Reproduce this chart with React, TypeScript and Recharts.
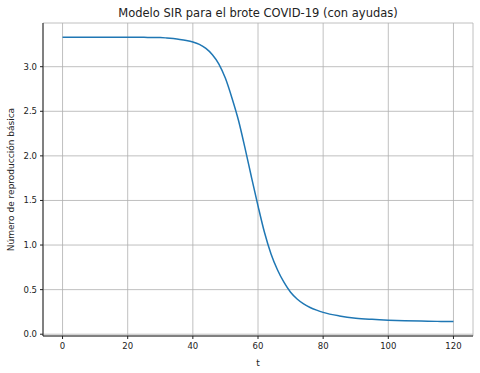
import React from 'react';
import { LineChart, Line, XAxis, YAxis, CartesianGrid } from 'recharts';

// days since start
const tValues = [
  0, 10, 20, 25, 30, 32, 34, 36, 38, 40, 42, 44, 46, 48, 50, 52, 54, 56, 58,
  60, 62, 64, 66, 68, 70, 72, 74, 76, 78, 80, 85, 90, 95, 100, 105, 110, 115,
  120,
];
// basic reproduction number
const r0Values = [
  3.33, 3.33, 3.33, 3.329, 3.327, 3.322, 3.315, 3.306, 3.294, 3.277, 3.25,
  3.205, 3.135, 3.03, 2.87, 2.65, 2.4, 2.09, 1.76, 1.44, 1.14, 0.9, 0.72, 0.58,
  0.47, 0.395, 0.34, 0.3, 0.27, 0.245, 0.205, 0.18, 0.167, 0.158, 0.152, 0.147,
  0.144, 0.142,
];
const xTicks = [0, 20, 40, 60, 80, 100, 120];
const yTicks = [0, 0.5, 1, 1.5, 2, 2.5, 3];

const data = tValues.map((t, i) => ({ t, r0: r0Values[i] }));

const font = '"DejaVu Sans", sans-serif';
const tickStyle = { fontSize: 8.5, fill: '#222', fontFamily: font };
const labelStyle = { fontSize: 9, fill: '#222', fontFamily: font };
const frame = '#222';

export default function App() {
  return (
    <div style={{ position: 'absolute', left: 0, top: 0, width: 480, height: 373 }}>
      <LineChart
        width={480}
        height={373}
        data={data}
        margin={{ top: 23, right: 7, bottom: 0, left: 0 }}
        style={{ background: '#fff' }}
      >
        <CartesianGrid stroke="#b0b0b0" strokeWidth={0.8} />
        <XAxis
          dataKey="t"
          type="number"
          domain={[-6, 126]}
          ticks={xTicks}
          height={37}
          tickSize={3}
          tickMargin={4}
          tick={tickStyle}
          axisLine={{ stroke: frame }}
          tickLine={{ stroke: frame }}
          allowDataOverflow
          label={{ value: 't', position: 'insideBottom', offset: 7, style: labelStyle }}
        />
        <XAxis
          xAxisId="top"
          orientation="top"
          type="number"
          domain={[-6, 126]}
          height={0}
          tick={false}
          tickLine={false}
          axisLine={{ stroke: frame }}
        />
        <YAxis
          type="number"
          domain={[-0.02, 3.49]}
          ticks={yTicks}
          width={43}
          tickSize={3}
          tickMargin={3}
          tick={tickStyle}
          tickFormatter={(v: number) => v.toFixed(1)}
          axisLine={{ stroke: frame }}
          tickLine={{ stroke: frame }}
          allowDataOverflow
          label={{
            value: 'Número de reproducción básica',
            angle: -90,
            position: 'insideLeft',
            offset: 11,
            style: { ...labelStyle, textAnchor: 'middle' },
          }}
        />
        <YAxis
          yAxisId="right"
          orientation="right"
          type="number"
          domain={[-0.02, 3.49]}
          width={0}
          tick={false}
          tickLine={false}
          axisLine={{ stroke: frame }}
        />
        <Line
          type="monotone"
          dataKey="r0"
          stroke="#1f77b4"
          strokeWidth={1.5}
          dot={false}
          isAnimationActive={false}
        />
      </LineChart>
      <svg
        width={480}
        height={373}
        style={{ position: 'absolute', left: 0, top: 0, pointerEvents: 'none' }}
      >
        <text x={258} y={17} textAnchor="middle" fontSize={11.5} fill="#222" fontFamily={font}>
          Modelo SIR para el brote COVID-19 (con ayudas)
        </text>
      </svg>
    </div>
  );
}
